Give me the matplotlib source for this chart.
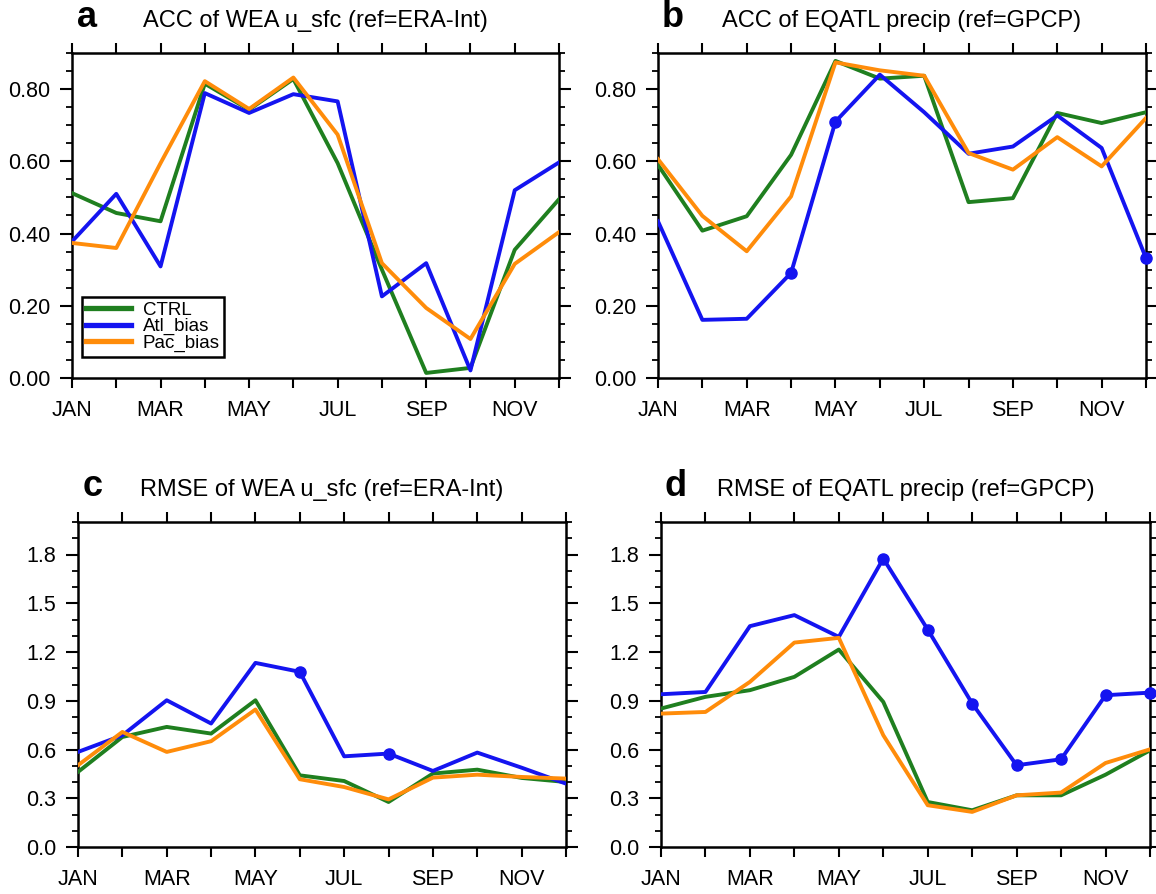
import matplotlib
matplotlib.use('Agg')
import matplotlib.pyplot as plt
from matplotlib.ticker import MultipleLocator, FormatStrFormatter

plt.rcParams['font.family'] = ['Liberation Sans', 'DejaVu Sans']

months = ['JAN', 'FEB', 'MAR', 'APR', 'MAY', 'JUN',
          'JUL', 'AUG', 'SEP', 'OCT', 'NOV', 'DEC']
series_names = ['CTRL', 'Atl_bias', 'Pac_bias']

# a: ACC of WEA u_sfc
acc_wea_ctrl = [0.512, 0.457, 0.434, 0.815, 0.743, 0.828,
                0.595, 0.300, 0.014, 0.028, 0.355, 0.495]
acc_wea_atl = [0.378, 0.510, 0.309, 0.789, 0.734, 0.786,
               0.766, 0.226, 0.318, 0.021, 0.520, 0.597]
acc_wea_pac = [0.374, 0.360, 0.595, 0.822, 0.745, 0.832,
               0.674, 0.318, 0.194, 0.108, 0.316, 0.404]
acc_wea_dots = []

# b: ACC of EQATL precip
acc_eq_ctrl = [0.590, 0.408, 0.448, 0.618, 0.878, 0.829,
               0.837, 0.487, 0.498, 0.734, 0.706, 0.736]
acc_eq_atl = [0.434, 0.161, 0.164, 0.291, 0.710, 0.840,
              0.736, 0.621, 0.641, 0.727, 0.637, 0.332]
acc_eq_pac = [0.606, 0.449, 0.351, 0.503, 0.874, 0.852,
              0.837, 0.623, 0.577, 0.667, 0.586, 0.720]
acc_eq_dots = [3, 4, 11]

# c: RMSE of WEA u_sfc
rmse_wea_ctrl = [0.462, 0.677, 0.739, 0.698, 0.903, 0.441,
                 0.406, 0.277, 0.452, 0.476, 0.425, 0.400]
rmse_wea_atl = [0.585, 0.687, 0.903, 0.760, 1.133, 1.078,
                0.558, 0.575, 0.468, 0.581, 0.488, 0.390]
rmse_wea_pac = [0.503, 0.708, 0.585, 0.651, 0.846, 0.417,
                0.369, 0.293, 0.427, 0.445, 0.431, 0.421]
rmse_wea_dots = [5, 7]

# d: RMSE of EQATL precip
rmse_eq_ctrl = [0.852, 0.924, 0.965, 1.047, 1.215, 0.893,
                0.277, 0.226, 0.318, 0.318, 0.445, 0.595]
rmse_eq_atl = [0.940, 0.954, 1.359, 1.427, 1.293, 1.775,
               1.338, 0.883, 0.503, 0.540, 0.934, 0.950]
rmse_eq_pac = [0.821, 0.831, 1.016, 1.258, 1.287, 0.688,
               0.257, 0.216, 0.318, 0.335, 0.517, 0.601]
rmse_eq_dots = [5, 6, 7, 8, 9, 10, 11]

colors = ['#1f7f1f', '#1414f0', '#ff8c0a']


def draw_panel(ax, letter, title, data, dots, ymax, major, minor, fmt,
               legend=False):
    x = list(range(len(months)))
    for vals, name, col in zip(data, series_names, colors):
        ax.plot(x, vals, color=col, lw=2.8, label=name, zorder=3)
    atl = data[1]
    ax.plot([x[i] for i in dots], [atl[i] for i in dots], 'o',
            color=colors[1], ms=8, zorder=4, clip_on=False)
    ax.set_xlim(0, 11)
    ax.set_ylim(0, ymax)
    ax.set_xticks(x)
    ax.set_xticklabels([m if i % 2 == 0 else '' for i, m in enumerate(months)])
    ax.yaxis.set_major_locator(MultipleLocator(major))
    ax.yaxis.set_minor_locator(MultipleLocator(minor))
    ax.yaxis.set_major_formatter(FormatStrFormatter(fmt))
    ax.tick_params(axis='x', which='major', direction='out', length=7.5,
                   width=1.5, top=True, labelsize=15.5, pad=8)
    ax.tick_params(axis='y', which='major', direction='out', length=8.5,
                   width=1.5, right=True, labelsize=15.5, pad=7)
    ax.tick_params(axis='y', which='minor', direction='out', length=4.3,
                   width=1.3, right=True)
    for sp in ax.spines.values():
        sp.set_linewidth(1.8)
    ax.text(0.5, 1.08, title, transform=ax.transAxes, ha='center',
            va='baseline', fontsize=17)
    ax.text(0.03, 1.08, letter, transform=ax.transAxes, ha='center',
            va='baseline', fontsize=26, fontweight='bold')
    if legend:
        leg = ax.legend(loc='lower left', bbox_to_anchor=(0.02, 0.065),
                        borderaxespad=0, fontsize=13.5, labelspacing=-0.03,
                        handlelength=2.4, handletextpad=0.6, borderpad=0.25,
                        fancybox=False, framealpha=1, edgecolor='black')
        leg.get_frame().set_linewidth(1.8)
        for line in leg.get_lines():
            line.set_linewidth(3.8)


fig = plt.figure(figsize=(11.56, 8.94), dpi=100)
W, H = 1156, 894
ax_a = fig.add_axes([72 / W, 1 - 378 / H, 487 / W, 325 / H])
ax_b = fig.add_axes([658 / W, 1 - 378 / H, 488 / W, 325 / H])
ax_c = fig.add_axes([78 / W, 1 - 847 / H, 488 / W, 325 / H])
ax_d = fig.add_axes([661 / W, 1 - 847 / H, 489 / W, 325 / H])

draw_panel(ax_a, 'a', 'ACC of WEA u_sfc (ref=ERA-Int)',
           [acc_wea_ctrl, acc_wea_atl, acc_wea_pac], acc_wea_dots,
           0.9, 0.2, 0.05, '%.2f', legend=True)
draw_panel(ax_b, 'b', 'ACC of EQATL precip (ref=GPCP)',
           [acc_eq_ctrl, acc_eq_atl, acc_eq_pac], acc_eq_dots,
           0.9, 0.2, 0.05, '%.2f')
draw_panel(ax_c, 'c', 'RMSE of WEA u_sfc (ref=ERA-Int)',
           [rmse_wea_ctrl, rmse_wea_atl, rmse_wea_pac], rmse_wea_dots,
           2.0, 0.3, 0.1, '%.1f')
draw_panel(ax_d, 'd', 'RMSE of EQATL precip (ref=GPCP)',
           [rmse_eq_ctrl, rmse_eq_atl, rmse_eq_pac], rmse_eq_dots,
           2.0, 0.3, 0.1, '%.1f')

fig.savefig('out.png', dpi=100)
